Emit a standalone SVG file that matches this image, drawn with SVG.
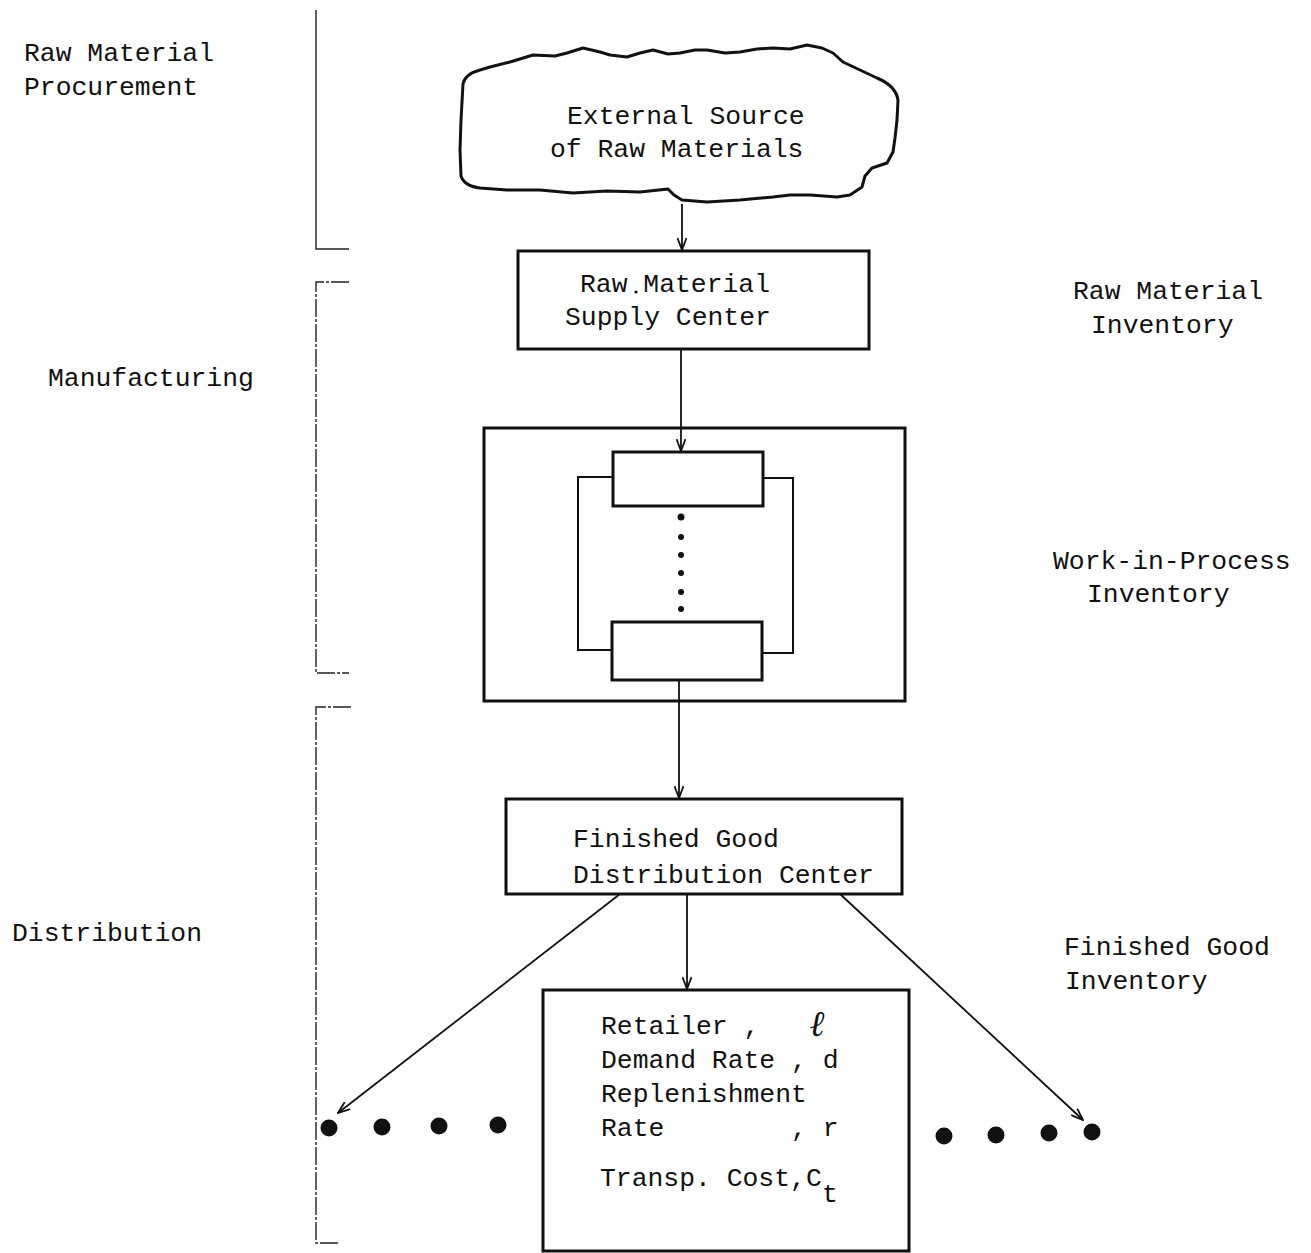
<svg xmlns="http://www.w3.org/2000/svg" width="1311" height="1253" viewBox="0 0 1311 1253">
<style>
text{font-family:"Liberation Mono","Courier New",monospace;font-size:26.4px;fill:#111}
.box{fill:none;stroke:#111;stroke-width:3}
.thin{fill:none;stroke:#111;stroke-width:2}
.conn{fill:none;stroke:#111;stroke-width:1.8}
.brk{fill:none;stroke:#222;stroke-width:1.4}
.dash{stroke-dasharray:18 2 3 2}
.dot{fill:#111}
</style>
<defs>
<marker id="arr" viewBox="0 0 14 10" refX="13" refY="5" markerWidth="14" markerHeight="10" markerUnits="userSpaceOnUse" orient="auto">
<path d="M1,0.5 L13,5 L1,9.5" fill="none" stroke="#111" stroke-width="1.8"/>
</marker>
</defs>
<rect width="1311" height="1253" fill="#fff"/>

<g id="brackets">
<path class="brk" d="M316,10 L316,249 L349,249"/>
<path class="brk dash" d="M349,282 L316,282 L316,673 L349,673"/>
<path class="brk dash" d="M351,707 L316,707 L316,1243 L340,1243"/>
</g>

<g id="phase-labels">
<text x="24" y="61">Raw Material</text>
<text x="24" y="95">Procurement</text>
<text x="48" y="386">Manufacturing</text>
<text x="12" y="941">Distribution</text>
</g>

<g id="inventory-labels">
<text x="1073" y="299">Raw Material</text>
<text x="1091" y="333">Inventory</text>
<text x="1053" y="569">Work-in-Process</text>
<text x="1087" y="602">Inventory</text>
<text x="1064" y="955">Finished Good</text>
<text x="1065" y="989">Inventory</text>
</g>

<g id="external-source">
<path class="box" stroke-linejoin="round" d="M463,84 Q465,74 480,70 L490,67 L510,62 L533,55 L555,56 L567,53 L583,48 L600,52 L610,55 L627,57 L640,53 L653,50 L668,54 L680,53 L695,50 L707,50 L725,53 L740,52 L757,49 L773,48 L790,49 L807,45 L822,48 L833,53 L843,62 L860,70 L877,78 Q896,86 898,100 L897,120 L895,138 L893,152 L887,163 L872,168 L865,176 L862,187 L850,195 L837,197 L810,195 L790,195 L773,197 L740,200 L707,202 L682,200 L674,195 L668,189 L640,192 L607,191 L573,193 L540,190 L507,190 L480,188 Q464,186 461,176 L460,150 L461,120 Z"/>
<text x="567" y="124">External Source</text>
<text x="550" y="157">of Raw Materials</text>
</g>

<g id="raw-material-supply">
<rect class="box" x="518" y="251" width="351" height="98"/>
<text x="580" y="292">Raw Material</text>
<circle cx="636" cy="292" r="1.6" class="dot"/>
<text x="565" y="325">Supply Center</text>
</g>

<g id="manufacturing-process">
<rect class="box" x="484" y="428" width="421" height="273"/>
<rect class="box" x="613" y="452" width="150" height="54"/>
<rect class="box" x="612" y="622" width="150" height="58"/>
<path class="thin" d="M613,477 L578,477 L578,650 L612,650"/>
<path class="thin" d="M763,478 L793,478 L793,653 L762,653"/>
<circle class="dot" cx="681" cy="517" r="3.5"/>
<circle class="dot" cx="681" cy="537" r="3"/>
<circle class="dot" cx="681" cy="555" r="3"/>
<circle class="dot" cx="681" cy="573" r="3"/>
<circle class="dot" cx="681" cy="592" r="3"/>
<circle class="dot" cx="681" cy="609" r="3"/>
</g>

<g id="finished-good-dc">
<rect class="box" x="506" y="799" width="396" height="95"/>
<text x="573" y="847">Finished Good</text>
<text x="573" y="883">Distribution Center</text>
</g>

<g id="retailer">
<rect class="box" x="543" y="990" width="366" height="261"/>
<text x="601" y="1034">Retailer ,</text>
<text x="810" y="1036" style="font-family:'DejaVu Serif','Liberation Serif',serif;font-style:italic;font-weight:bold;font-size:36px">ℓ</text>
<text x="601" y="1068" xml:space="preserve">Demand Rate , d</text>
<text x="601" y="1102">Replenishment</text>
<text x="601" y="1136" xml:space="preserve">Rate        , r</text>
<text x="600" y="1186">Transp. Cost,C</text>
<text x="822" y="1202">t</text>
</g>

<g id="retailers-left">
<circle class="dot" cx="329" cy="1128" r="8.5"/>
<circle class="dot" cx="382" cy="1127" r="8.5"/>
<circle class="dot" cx="439" cy="1126" r="8.5"/>
<circle class="dot" cx="498" cy="1125" r="8.5"/>
</g>
<g id="retailers-right">
<circle class="dot" cx="944" cy="1136" r="8.5"/>
<circle class="dot" cx="996" cy="1135" r="8.5"/>
<circle class="dot" cx="1049" cy="1133" r="8.5"/>
<circle class="dot" cx="1092" cy="1132" r="8.5"/>
</g>

<g id="connectors">
<line class="conn" x1="682" y1="204" x2="682" y2="250" marker-end="url(#arr)"/>
<line class="conn" x1="681" y1="349" x2="681" y2="451" marker-end="url(#arr)"/>
<line class="conn" x1="679" y1="680" x2="679" y2="798" marker-end="url(#arr)"/>
<line class="conn" x1="687" y1="894" x2="687" y2="989" marker-end="url(#arr)"/>
<line class="conn" x1="620" y1="894" x2="338" y2="1113" marker-end="url(#arr)"/>
<line class="conn" x1="840" y1="894" x2="1083" y2="1120" marker-end="url(#arr)"/>
</g>
</svg>
